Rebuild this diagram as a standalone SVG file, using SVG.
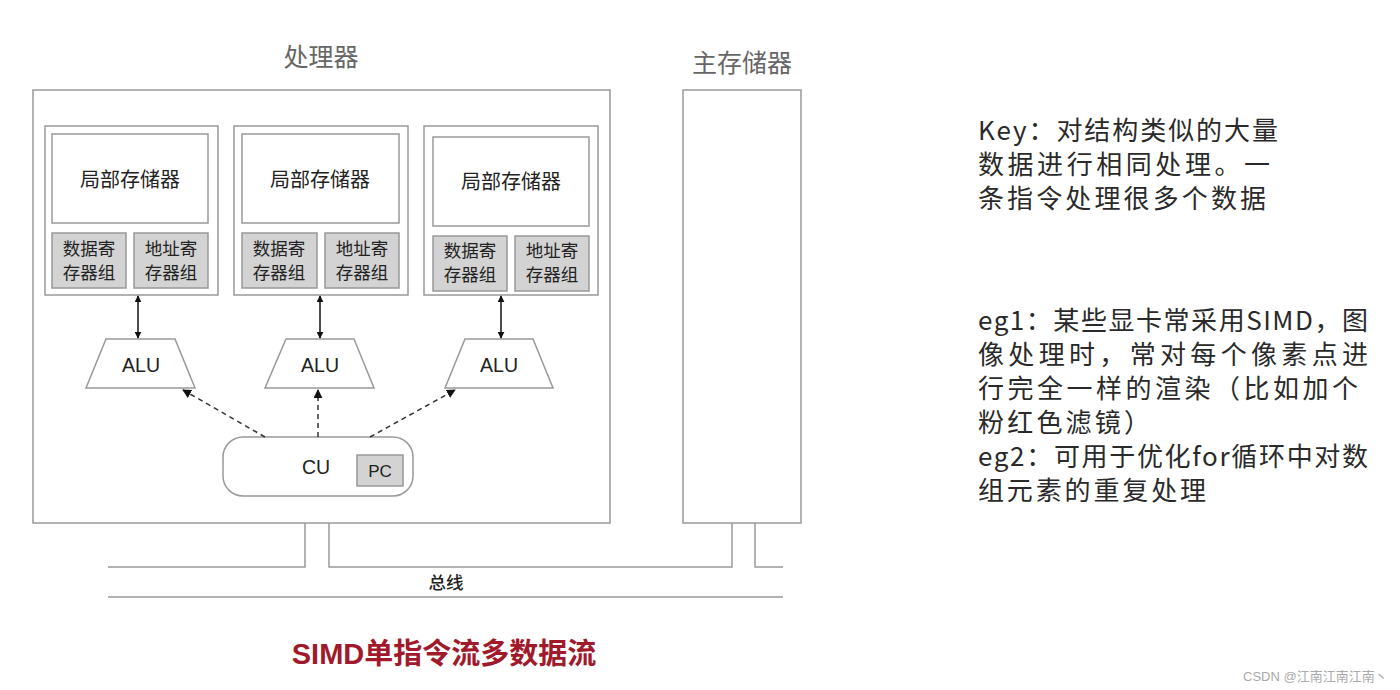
<svg xmlns="http://www.w3.org/2000/svg" width="1400" height="690" viewBox="0 0 1400 690">
<style>
.box{fill:#fff;stroke:#999;stroke-width:1.5}
.reg{fill:#d3d3d3;stroke:#999;stroke-width:1.5}
.line{fill:none;stroke:#999;stroke-width:1.5}
.arr{fill:none;stroke:#111;stroke-width:1.5}
.dash{fill:none;stroke:#333;stroke-width:1.5;stroke-dasharray:5 4}
.t{font-family:"Liberation Sans","Noto Sans CJK SC",sans-serif;fill:#222;text-anchor:middle}
.cjk{font-family:"Noto Sans CJK SC",sans-serif;fill:#222;text-anchor:middle}
.title{font-family:"Noto Sans CJK SC",sans-serif;fill:#666;font-size:25px;text-anchor:middle}
.note{font-family:"Noto Sans CJK SC",sans-serif;fill:#2a2a2a;font-size:26px}
</style>
<defs>
<marker id="ah" viewBox="0 0 10 10" refX="9" refY="5" markerWidth="7" markerHeight="7" orient="auto-start-reverse" markerUnits="userSpaceOnUse">
<path d="M0,0 L10,5 L0,10 z" fill="#111"/>
</marker>
<marker id="ahd" viewBox="0 0 10 10" refX="9" refY="5" markerWidth="9" markerHeight="9" orient="auto" markerUnits="userSpaceOnUse">
<path d="M0,0 L10,5 L0,10 z" fill="#111"/>
</marker>
</defs>
<rect width="1400" height="690" fill="#fff"/>

<g id="processor">
<rect class="box" x="33" y="90" width="577" height="433"/>
<text class="title" x="321" y="66">处理器</text>
</g>

<g id="main-memory">
<rect class="box" x="683" y="90" width="118" height="433"/>
<text class="title" x="742" y="72">主存储器</text>
</g>

<g id="pe1">
<rect class="box" x="45" y="126" width="173" height="169"/>
<rect class="box" x="52" y="134" width="156" height="89"/>
<text class="cjk" x="130" y="187" font-size="20">局部存储器</text>
<rect class="reg" x="52" y="233" width="74" height="55"/>
<text class="cjk" x="89" y="255" font-size="17.5">数据寄</text>
<text class="cjk" x="89" y="279" font-size="17.5">存器组</text>
<rect class="reg" x="134" y="233" width="74" height="55"/>
<text class="cjk" x="171" y="255" font-size="17.5">地址寄</text>
<text class="cjk" x="171" y="279" font-size="17.5">存器组</text>
</g>

<g id="pe2">
<rect class="box" x="234" y="126" width="174" height="169"/>
<rect class="box" x="242" y="134" width="157" height="89"/>
<text class="cjk" x="320" y="187" font-size="20">局部存储器</text>
<rect class="reg" x="242" y="233" width="75" height="55"/>
<text class="cjk" x="279" y="255" font-size="17.5">数据寄</text>
<text class="cjk" x="279" y="279" font-size="17.5">存器组</text>
<rect class="reg" x="325" y="233" width="74" height="55"/>
<text class="cjk" x="362" y="255" font-size="17.5">地址寄</text>
<text class="cjk" x="362" y="279" font-size="17.5">存器组</text>
</g>

<g id="pe3">
<rect class="box" x="424" y="126" width="174" height="169"/>
<rect class="box" x="433" y="137" width="156" height="89"/>
<text class="cjk" x="511" y="189" font-size="20">局部存储器</text>
<rect class="reg" x="433" y="236" width="74" height="55"/>
<text class="cjk" x="470" y="257" font-size="17.5">数据寄</text>
<text class="cjk" x="470" y="281" font-size="17.5">存器组</text>
<rect class="reg" x="515" y="236" width="74" height="55"/>
<text class="cjk" x="552" y="257" font-size="17.5">地址寄</text>
<text class="cjk" x="552" y="281" font-size="17.5">存器组</text>
</g>

<g id="alu1">
<polygon class="box" points="106,339 175,339 195,388 86,388"/>
<text class="t" x="141" y="372" font-size="19.5">ALU</text>
</g>
<g id="alu2">
<polygon class="box" points="286,339 354,339 374,388 265,388"/>
<text class="t" x="320" y="372" font-size="19.5">ALU</text>
</g>
<g id="alu3">
<polygon class="box" points="465,339 533,339 553,388 445,388"/>
<text class="t" x="499" y="372" font-size="19.5">ALU</text>
</g>

<g id="cu">
<rect class="box" x="223" y="437" width="190" height="59" rx="20" ry="20"/>
<text class="t" x="316" y="474" font-size="19.5">CU</text>
<rect class="reg" x="357" y="455" width="46" height="31"/>
<text class="t" x="380" y="477" font-size="17">PC</text>
</g>

<g id="bus">
<text class="cjk" x="446" y="589" font-size="17.5" font-weight="500">总线</text>
</g>

<g id="connectors">
<line class="arr" x1="138" y1="296" x2="138" y2="338" marker-start="url(#ah)" marker-end="url(#ah)"/>
<line class="arr" x1="320" y1="296" x2="320" y2="338" marker-start="url(#ah)" marker-end="url(#ah)"/>
<line class="arr" x1="501" y1="296" x2="501" y2="338" marker-start="url(#ah)" marker-end="url(#ah)"/>
<line class="dash" x1="265" y1="437" x2="183" y2="390" marker-end="url(#ahd)"/>
<line class="dash" x1="318" y1="437" x2="318" y2="390" marker-end="url(#ahd)"/>
<line class="dash" x1="370" y1="437" x2="455" y2="390" marker-end="url(#ahd)"/>
<polyline class="line" points="108,567 305,567 305,523"/>
<polyline class="line" points="329,523 329,567 732,567 732,523"/>
<polyline class="line" points="755,523 755,567 783,567"/>
<line class="line" x1="108" y1="597" x2="783" y2="597"/>
</g>

<g id="notes">
<text class="note" x="978" y="140" textLength="300" lengthAdjust="spacing">Key：对结构类似的大量</text>
<text class="note" x="978" y="174" textLength="292" lengthAdjust="spacing">数据进行相同处理。一</text>
<text class="note" x="978" y="208" textLength="288" lengthAdjust="spacing">条指令处理很多个数据</text>
<text class="note" x="978" y="330" textLength="390" lengthAdjust="spacing">eg1：某些显卡常采用SIMD，图</text>
<text class="note" x="978" y="364" textLength="390" lengthAdjust="spacing">像处理时，常对每个像素点进</text>
<text class="note" x="978" y="398" textLength="380" lengthAdjust="spacing">行完全一样的渲染（比如加个</text>
<text class="note" x="978" y="432" textLength="172" lengthAdjust="spacing">粉红色滤镜）</text>
<text class="note" x="978" y="466" textLength="390" lengthAdjust="spacing">eg2：可用于优化for循环中对数</text>
<text class="note" x="978" y="500" textLength="228" lengthAdjust="spacing">组元素的重复处理</text>
</g>

<text x="444" y="664" font-family="'Liberation Sans','Noto Sans CJK SC',sans-serif" font-size="29" font-weight="700" fill="#a01a2c" text-anchor="middle">SIMD单指令流多数据流</text>
<text x="1243" y="681" font-family="'Liberation Sans','Noto Sans CJK SC',sans-serif" font-size="13" fill="#aaa">CSDN @江南江南江南丶</text>
</svg>
